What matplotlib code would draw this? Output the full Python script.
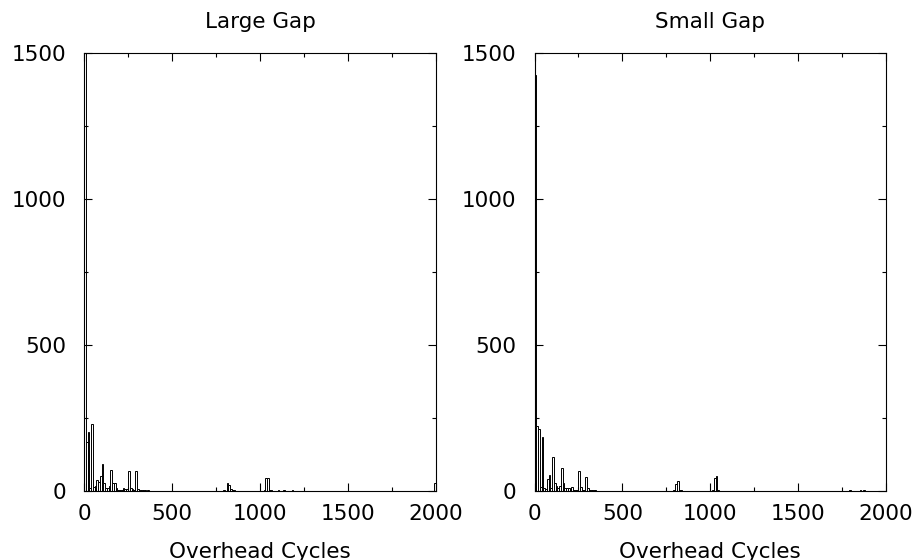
import matplotlib

matplotlib.use("Agg")
import matplotlib.pyplot as plt
from matplotlib.ticker import MultipleLocator

# histogram bins: left edge (cycles) -> count, bins are 10 cycles wide
BIN_WIDTH = 10

large_gap_edges = [0, 10, 20, 30, 40, 50, 60, 70, 80, 90, 100, 110, 120, 130, 140,
                   150, 160, 170, 180, 190, 200, 210, 220, 230, 240, 250, 260, 270,
                   280, 290, 300, 310, 320, 330, 340, 350, 360, 380, 400, 430, 470,
                   520, 600, 680, 770, 790, 810, 820, 830, 840, 850, 1020, 1030,
                   1040, 1050, 1060, 1100, 1130, 1180, 1230, 1280, 1350, 1420, 1500,
                   1600, 1700, 1850, 1990]
large_gap_counts = [1510, 169, 203, 9, 229, 15, 18, 38, 30, 51, 91, 26, 12, 9, 17,
                    72, 26, 26, 12, 5, 5, 3, 12, 6, 7, 68, 12, 7,
                    3, 68, 7, 4, 3, 2, 2, 1, 2, 1, 1, 1, 1,
                    1, 1, 1, 1, 2, 28, 22, 8, 3, 2, 2, 45,
                    45, 3, 2, 2, 2, 2, 1, 1, 1, 1, 1,
                    1, 1, 1, 27]

small_gap_edges = [0, 10, 20, 30, 40, 50, 60, 70, 80, 90, 100, 110, 120, 130, 140,
                   150, 160, 170, 180, 190, 200, 210, 220, 230, 240, 250, 260, 270,
                   280, 290, 300, 310, 320, 330, 340, 350, 370, 400, 450, 520, 610,
                   700, 790, 800, 810, 820, 830, 1010, 1020, 1030, 1040, 1060, 1100,
                   1200, 1300, 1450, 1600, 1790, 1820, 1850, 1870, 1900]
small_gap_counts = [1425, 221, 211, 15, 186, 12, 8, 41, 55, 10, 115, 28, 17, 10, 17,
                    80, 26, 12, 12, 9, 8, 15, 5, 3, 3, 68, 15, 5,
                    4, 49, 9, 3, 2, 2, 2, 1, 1, 1, 1, 1, 1,
                    1, 2, 24, 35, 5, 2, 2, 45, 51, 3, 1, 1,
                    1, 1, 1, 1, 2, 1, 2, 2, 1]

panel_titles = ["Large Gap", "Small Gap"]
x_label = "Overhead Cycles"

FONT_SIZE = 15.5
plt.rcParams["font.family"] = ["DejaVu Sans"]
plt.rcParams["font.size"] = FONT_SIZE

figure = plt.figure(figsize=(9.17, 5.6), dpi=100)
axes_boxes = [[0.0916, 0.1232, 0.3839, 0.7827],
              [0.5829, 0.1232, 0.3833, 0.7827]]
panels = [(large_gap_edges, large_gap_counts), (small_gap_edges, small_gap_counts)]

for box, title, (edges, counts) in zip(axes_boxes, panel_titles, panels):
    axis = figure.add_axes(box)
    axis.bar(edges, counts, width=BIN_WIDTH, align="edge",
             facecolor="white", edgecolor="black", linewidth=0.7)
    axis.set_xlim(0, 2000)
    axis.set_ylim(0, 1500)
    axis.xaxis.set_major_locator(MultipleLocator(500))
    axis.xaxis.set_minor_locator(MultipleLocator(250))
    axis.yaxis.set_major_locator(MultipleLocator(500))
    axis.yaxis.set_minor_locator(MultipleLocator(250))
    axis.tick_params(which="both", direction="in", top=True, right=True,
                     width=0.8, colors="black", labelsize=FONT_SIZE)
    axis.tick_params(which="major", length=6)
    axis.tick_params(which="minor", length=3)
    axis.tick_params(axis="x", pad=9.5)
    axis.tick_params(axis="y", pad=13)
    for spine in axis.spines.values():
        spine.set_linewidth(0.8)
        spine.set_color("black")
    axis.set_title(title, fontsize=FONT_SIZE, pad=17.8)
    axis.set_xlabel(x_label, fontsize=FONT_SIZE)
    axis.xaxis.set_label_coords(0.5, -0.1157)

figure.savefig("out.png", dpi=100)
plt.close(figure)
